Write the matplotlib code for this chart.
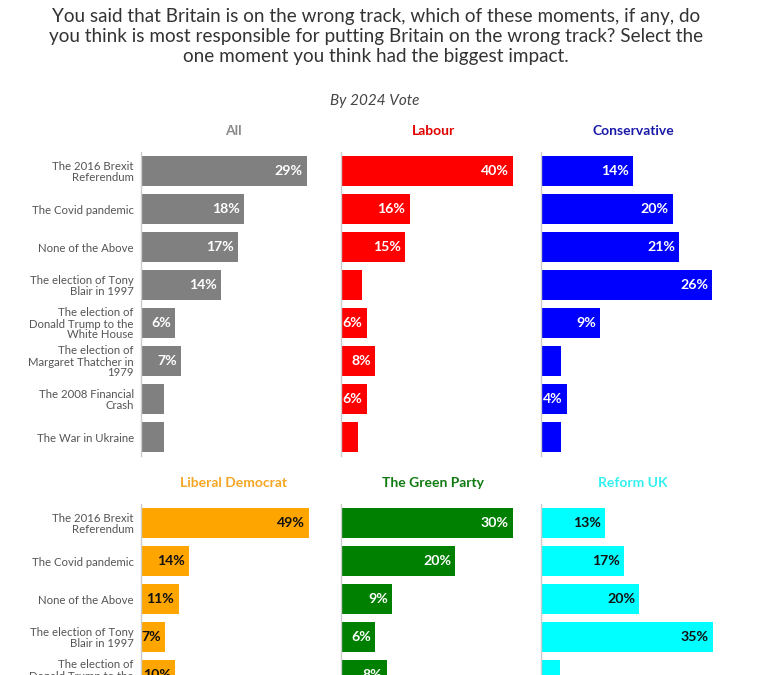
import matplotlib.pyplot as plt
from matplotlib.transforms import offset_copy

categories = ["The 2016 Brexit\nReferendum", "The Covid pandemic", "None of the Above",
              "The election of Tony\nBlair in 1997",
              "The election of\nDonald Trump to the\nWhite House",
              "The election of\nMargaret Thatcher in\n1979",
              "The 2008 Financial\nCrash", "The War in Ukraine"]

groups = ["All", "Labour", "Conservative", "Liberal Democrat", "The Green Party", "Reform UK"]
all_vals = [29, 18, 17, 14, 6, 7, 4, 4]
labour_vals = [40, 16, 15, 5, 6, 8, 6, 4]
conservative_vals = [14, 20, 21, 26, 9, 3, 4, 3]
# bottom row is cut off in the picture, only the first five bars show
libdem_vals = [49, 14, 11, 7, 10]
green_vals = [30, 20, 9, 6, 8]
reform_vals = [13, 17, 20, 35, 4]

colors = ["#808080", "#ff0000", "#0000ff", "#ffa500", "#008000", "#00ffff"]
title_colors = ["#8a8a8a", "#e00000", "#1a1aa8", "#f5a623", "#0f7a0f", "#33f0f0"]
label_colors = ["white", "white", "white", "#111111", "white", "#111111"]
x_max = [32.3, 43.0, 28.0, 53.8, 32.3, 37.6]

series = [all_vals, labour_vals, conservative_vals, libdem_vals, green_vals, reform_vals]

plt.rcParams['font.family'] = ['Lato', 'DejaVu Sans']

W, H = 776, 675
fig = plt.figure(figsize=(W / 100, H / 100), dpi=100)

fig.text(0.485, 0.946,
         "You said that Britain is on the wrong track, which of these moments, if any, do\n"
         "you think is most responsible for putting Britain on the wrong track? Select the\n"
         "one moment you think had the biggest impact.",
         ha='center', va='center', fontsize=13.6, color='#333333', linespacing=1.22)
fig.text(0.483, 1 - 101 / H, "By 2024 Vote", ha='center', va='center',
         fontsize=11, style='italic', color='#444444')

ax_w = 185
lefts = [140.7, 340.7, 540.7]
tops = [152, 504]
ax_h = 304

for i, vals in enumerate(series):
    row, col = divmod(i, 3)
    top = tops[row]
    ax = fig.add_axes([lefts[col] / W, (H - top - ax_h) / H, ax_w / W, ax_h / H])
    y = list(range(len(vals)))
    ax.barh(y, vals, height=0.8, color=colors[i])
    ax.set_ylim(7.5, -0.5)
    ax.set_xlim(0, x_max[i])
    for s in ['top', 'right', 'bottom']:
        ax.spines[s].set_visible(False)
    ax.spines['left'].set_color('#cccccc')
    ax.spines['left'].set_linewidth(1)
    ax.set_xticks([])
    if col == 0:
        ax.set_yticks(range(len(categories)))
        ax.set_yticklabels(categories, fontsize=8.2, color='#555555', linespacing=1.0)
        ax.tick_params(axis='y', length=0, pad=5)
    else:
        ax.set_yticks([])
    for yy, v in zip(y, vals):
        px = v / x_max[i] * ax_w
        if px >= 23.5:
            ax.annotate(f"{v}%", (v, yy), xytext=(-3, 0), textcoords='offset points',
                        ha='right', va='center', fontsize=10.2, fontweight='bold',
                        color=label_colors[i])
    tr = offset_copy(ax.transAxes, fig=fig, x=0, y=21 * 0.72, units='points')
    ax.text(0.5, 1.0, groups[i], transform=tr, ha='center', va='center',
            fontsize=10, fontweight='bold', color=title_colors[i])

fig.savefig("out.png", dpi=100)
